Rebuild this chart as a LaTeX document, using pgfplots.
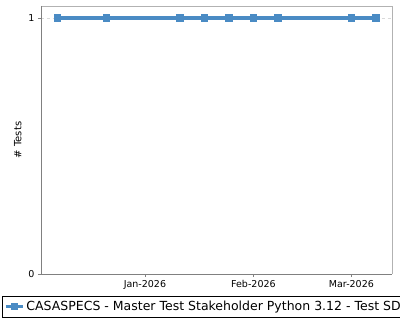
\documentclass[border=0pt]{standalone}
\usepackage{pgfplots}
\pgfplotsset{compat=1.18}
\usepackage{fontspec}
\setmainfont{DejaVu Sans}
\definecolor{lineblue}{HTML}{4A8BC4}
\begin{document}
\begin{tikzpicture}
\clip (-41bp,-46bp) rectangle (359bp,274bp);
\useasboundingbox (-41bp,-46bp) rectangle (359bp,274bp);
\begin{axis}[
  at={(0,0)}, anchor=south west,
  scale only axis,
  width=351bp, height=268bp,
  xmin=-29.7, xmax=70.6,
  ymin=0, ymax=1.047,
  xtick={0,31,59},
  xticklabels={Jan-2026,Feb-2026,Mar-2026},
  ytick={0,1},
  xtick pos=bottom, ytick pos=left,
  ymajorgrids,
  grid style={dashed, gray!30},
  axis line style={draw=none},
  tick style={gray, thin},
  tick align=outside,
  major tick length=3bp,
  ticklabel style={font=\fontsize{9.5bp}{11bp}\selectfont},
  /pgf/number format/assume math mode=true,
  ylabel={\# Tests},
  ylabel style={font=\fontsize{10bp}{12bp}\selectfont, at={(axis description cs:0,0.5)}, anchor=south, yshift=16bp},
  legend style={at={(rel axis cs:-0.111,-0.082)}, anchor=north west,
    draw=black, font=\fontsize{12.5bp}{15bp}\selectfont, inner xsep=2bp, inner ysep=3bp,
    legend cell align=left},
  legend image code/.code={
    \draw[mark repeat=2,mark phase=2] plot coordinates {(0cm,0cm) (0.3cm,0cm) (0.6cm,0cm)};
  },
  clip=false,
]
\draw[gray!60, line width=0.8pt] (rel axis cs:0,1) -- (rel axis cs:1,1) -- (rel axis cs:1,0);
\draw[gray, line width=0.8pt] (rel axis cs:0,1) -- (rel axis cs:0,0) -- (rel axis cs:1,0);
\addplot[color=lineblue, line width=3.2bp, mark=square*, mark size=3.3bp, mark options={solid, line width=0pt}]
coordinates {(-25,1) (-11,1) (10,1) (17,1) (24,1) (31,1) (38,1) (59,1) (66,1)};
\addlegendentry{CASASPECS - Master Test Stakeholder Python 3.12 - Test SDK}
\end{axis}
\end{tikzpicture}
\end{document}
